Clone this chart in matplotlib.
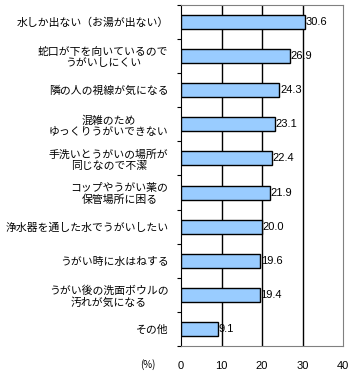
import numpy as np
import matplotlib.pyplot as plt
from matplotlib.ticker import FixedLocator

plt.rcParams['font.family'] = ['Noto Sans CJK JP', 'DejaVu Sans']

labels = ['水しか出ない（お湯が出ない）',
          '蛇口が下を向いているので\nうがいしにくい',
          '隣の人の視線が気になる',
          '混雑のため\nゆっくりうがいできない',
          '手洗いとうがいの場所が\n同じなので不潔',
          'コップやうがい薬の\n保管場所に困る',
          '浄水器を通した水でうがいしたい',
          'うがい時に水はねする',
          'うがい後の洗面ボウルの\n汚れが気になる',
          'その他']
values = [30.6, 26.9, 24.3, 23.1, 22.4, 21.9, 20.0, 19.6, 19.4, 9.1]
xticks = [0, 10, 20, 30, 40]

fig = plt.figure(figsize=(3.59, 3.79), dpi=100)
ax = fig.add_axes([181/359, 1-346/379, 162/359, 341/379])

n = len(values)
y = np.arange(n)
ax.barh(y, values, height=0.41, color='#99ccff', edgecolor='black', linewidth=1, zorder=3)
for yi, v in zip(y, values):
    ax.text(v + 0.2, yi, '%.1f' % v, va='center', ha='left', fontsize=8,
            family=['Liberation Sans'], zorder=4)

ax.set_xlim(0, 40)
ax.set_ylim(n - 0.5, -0.5)
for xv in [10, 20, 30]:
    ax.axvline(xv, color='black', linewidth=1, zorder=1)

ax.set_xticks(xticks)
ax.set_xticklabels([str(t) for t in xticks], fontsize=8, family=['Liberation Sans'])
ax.tick_params(axis='x', length=0, pad=11)

ax.yaxis.set_major_locator(FixedLocator(np.arange(-0.5, n, 1.0)))
ax.set_yticklabels([])
ax.tick_params(axis='y', which='major', length=3, direction='out', color='black')
ax.set_yticks(y, minor=True)
ax.set_yticklabels(labels, minor=True, fontsize=7.8, ha='right', multialignment='center',
                   linespacing=1.15)
ax.tick_params(axis='y', which='minor', length=0, pad=9)

for name in ['top', 'right', 'bottom']:
    ax.spines[name].set_color('#808080')
ax.spines['left'].set_color('black')

fig.text(148/359, 1-365/379, '(%)', fontsize=7, ha='center', va='center')

fig.savefig('out.png', dpi=100)
